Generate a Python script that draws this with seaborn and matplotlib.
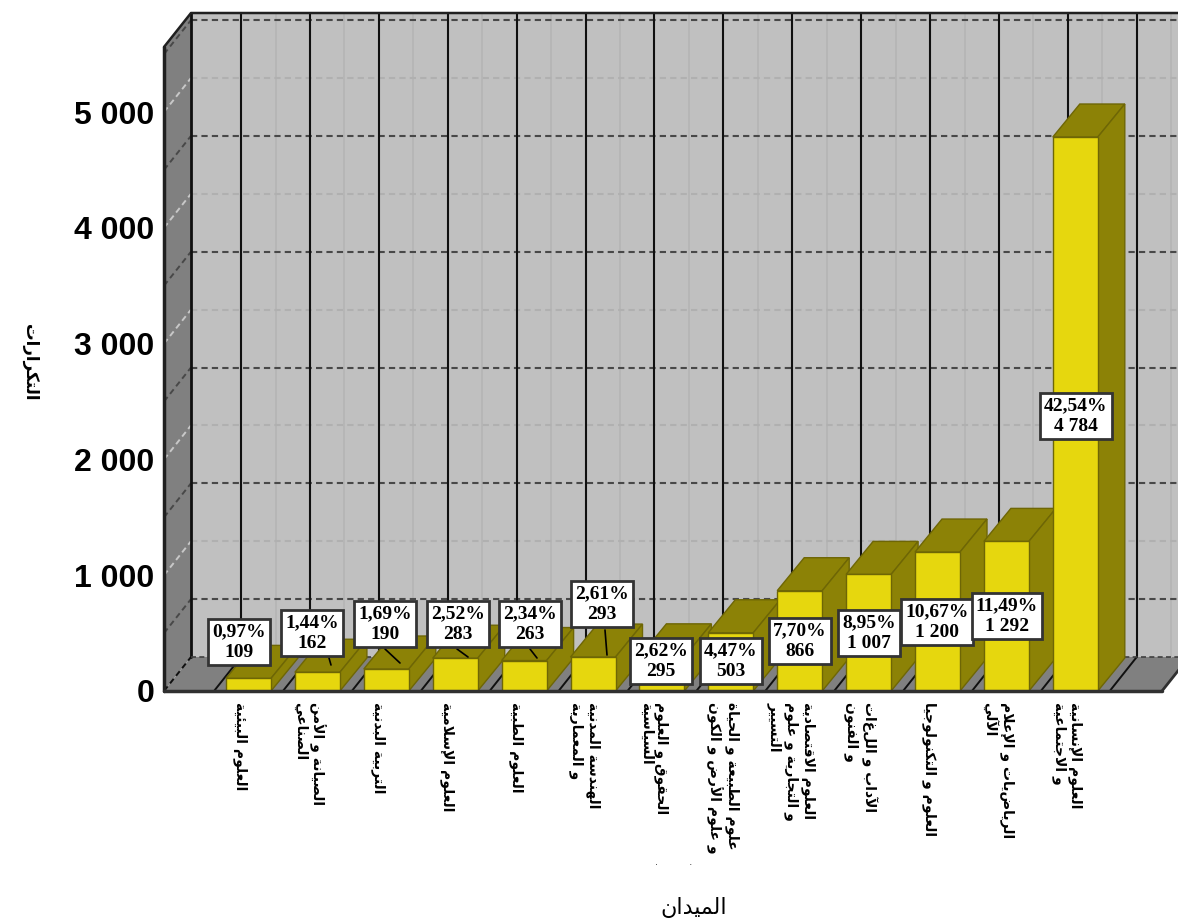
import matplotlib
matplotlib.use("Agg")
import matplotlib.pyplot as plt
from matplotlib.patches import Polygon
from matplotlib.transforms import ScaledTranslation
import pandas as pd
import seaborn as sns

# ---------- data ----------
fields = [
    "العلوم البيئية",
    "الصيانة و الأمن\nالصناعي",
    "التربية البدنية",
    "العلوم الإسلامية",
    "العلوم الطبية",
    "الهندسة المدنية\nو المعمارية",
    "الحقوق و العلوم\nالسياسية",
    "علوم الطبيعة و الحياة\nو علوم الأرض و الكون",
    "العلوم الاقتصادية\nو التجارية و علوم\nالتسيير",
    "الآداب و اللغات\nو الفنون",
    "العلوم و التكنولوجيا",
    "الرياضيات و الإعلام\nالآلي",
    "العلوم الإنسانية\nو الاجتماعية",
]
counts = [109, 162, 190, 283, 263, 293, 295, 503, 866, 1007, 1200, 1292, 4784]
shares = ["0,97", "1,44", "1,69", "2,52", "2,34", "2,61", "2,62", "4,47",
          "7,70", "8,95", "10,67", "11,49", "42,54"]
y_ticks = [0, 1000, 2000, 3000, 4000, 5000]
y_tick_labels = ["0", "1 000", "2 000", "3 000", "4 000", "5 000"]
x_title = "الميدان"
y_title = "التكرارات"

# ---------- layout, in pixels of the 1178x924 canvas ----------
W, H = 1178, 924
FRONT_LEFT, FLOOR_Y, TOP_Y = 164, 691, 47
FIRST_BAR_CENTRE, BAR_STEP, BAR_WIDTH = 248.5, 68.9, 45
PX_PER_COUNT = 0.1158
DEPTH_X, WALL_DEPTH_Y, BAR_DEPTH_Y = 27, 34, 33
FLOOR_RIGHT = 1162
# centres of the value boxes
box_centres = [(239, 642), (312, 633), (385, 624), (458, 624), (530, 624),
               (602, 604), (661, 661), (731, 661), (800, 641), (869, 633),
               (937, 622), (1007, 616), (1076, 416)]
# leader lines from a box to its bar
leaders = [(1, (329, 658), (331, 665)), (2, (385, 649), (400, 663)),
           (3, (457, 649), (468, 657)), (4, (530, 649), (537, 658)),
           (5, (605, 630), (607, 655))]

YELLOW, OLIVE, BAR_EDGE = "#E6D70E", "#8C8206", "#6E6605"
WALL, SIDE_WALL = "#C0C0C0", "#808080"
GRID_DARK, GRID_PALE = "#484848", "#B0B0B0"


# ---------- Arabic contextual forms (matplotlib draws glyphs left to right, unshaped) ----------
FORMS = {  # isolated, final, initial, medial
    "ء": "\uFE80", "آ": "\uFE81\uFE82", "أ": "\uFE83\uFE84", "إ": "\uFE87\uFE88",
    "ا": "\uFE8D\uFE8E", "ئ": "\uFE89\uFE8A\uFE8B\uFE8C", "ب": "\uFE8F\uFE90\uFE91\uFE92",
    "ة": "\uFE93\uFE94", "ت": "\uFE95\uFE96\uFE97\uFE98", "ج": "\uFE9D\uFE9E\uFE9F\uFEA0",
    "ح": "\uFEA1\uFEA2\uFEA3\uFEA4", "د": "\uFEA9\uFEAA", "ر": "\uFEAD\uFEAE",
    "س": "\uFEB1\uFEB2\uFEB3\uFEB4", "ص": "\uFEB9\uFEBA\uFEBB\uFEBC",
    "ط": "\uFEC1\uFEC2\uFEC3\uFEC4", "ع": "\uFEC9\uFECA\uFECB\uFECC",
    "ف": "\uFED1\uFED2\uFED3\uFED4", "ق": "\uFED5\uFED6\uFED7\uFED8",
    "ك": "\uFED9\uFEDA\uFEDB\uFEDC", "ل": "\uFEDD\uFEDE\uFEDF\uFEE0",
    "م": "\uFEE1\uFEE2\uFEE3\uFEE4", "ن": "\uFEE5\uFEE6\uFEE7\uFEE8",
    "ه": "\uFEE9\uFEEA\uFEEB\uFEEC", "و": "\uFEED\uFEEE", "ي": "\uFEF1\uFEF2\uFEF3\uFEF4",
}
LAM_ALEF = {"ا": "\uFEFB\uFEFC", "أ": "\uFEF7\uFEF8", "إ": "\uFEF9\uFEFA", "آ": "\uFEF5\uFEF6"}


def shape_line(line):
    """Join one logical Arabic line and return it in visual (left-to-right) order."""
    out, i = [], 0
    joined_before = False
    while i < len(line):
        ch = line[i]
        if ch not in FORMS:
            out.append(ch)
            joined_before = False
            i += 1
            continue
        if ch == "ل" and i + 1 < len(line) and line[i + 1] in LAM_ALEF:
            out.append(LAM_ALEF[line[i + 1]][1 if joined_before else 0])
            joined_before = False
            i += 2
            continue
        forms = FORMS[ch]
        next_ok = i + 1 < len(line) and line[i + 1] in FORMS
        if len(forms) == 4 and joined_before and next_ok:
            glyph = forms[3]
        elif len(forms) == 4 and next_ok:
            glyph = forms[2]
        elif joined_before and len(forms) >= 2:
            glyph = forms[1]
        else:
            glyph = forms[0]
        out.append(glyph)
        joined_before = len(forms) == 4
        i += 1
    return "".join(reversed(out))


def shape(text):
    return "\n".join(shape_line(part) for part in text.split("\n"))


# ---------- figure and axes ----------
sns.set_theme(style="white")
plt.rcParams["font.family"] = ["DejaVu Sans"]
fig = plt.figure(figsize=(W / 100, H / 100), dpi=100, facecolor="white")
ax = fig.add_axes([FRONT_LEFT / W, 1 - FLOOR_Y / H, (W - FRONT_LEFT) / W, (FLOOR_Y - TOP_Y) / H])
ax.patch.set_visible(False)


def dx(px):
    return px / BAR_STEP


def dy(px):
    return px / PX_PER_COUNT


def data_x(px):
    return (px - FIRST_BAR_CENTRE) / BAR_STEP


def data_y(px):
    return (FLOOR_Y - px) / PX_PER_COUNT


frame = pd.DataFrame({"field": [shape(f) for f in fields], "count": counts})
sns.barplot(data=frame, x="field", y="count", color=YELLOW, saturation=1,
            width=BAR_WIDTH / BAR_STEP, edgecolor=BAR_EDGE, linewidth=1,
            ax=ax, zorder=3)
ax.set_xlim(data_x(FRONT_LEFT), data_x(W))
ax.set_ylim(0, data_y(TOP_Y))
sns.despine(ax=ax, left=True, bottom=True)

x0, x1 = data_x(FRONT_LEFT), data_x(W + 60)
back_x0 = x0 + dx(DEPTH_X)
floor_right = data_x(FLOOR_RIGHT)
wall_dy, y_top = dy(WALL_DEPTH_Y), data_y(TOP_Y)


def poly(points, **kw):
    ax.add_patch(Polygon(points, closed=True, clip_on=False, **kw))


def line(xs, ys, **kw):
    return ax.plot(xs, ys, clip_on=False, **kw)[0]


bar_rects = list(ax.patches)

# back wall, left wall and floor
poly([(back_x0, wall_dy), (x1, wall_dy), (x1, y_top + wall_dy), (back_x0, y_top + wall_dy)],
     fc=WALL, ec="none", zorder=0)
poly([(x0, 0), (back_x0, wall_dy), (back_x0, y_top + wall_dy), (x0, y_top)],
     fc=SIDE_WALL, ec="none", zorder=0)
poly([(x0, 0), (back_x0, wall_dy), (x1, wall_dy), (floor_right + dx(DEPTH_X), wall_dy), (floor_right, 0)],
     fc=SIDE_WALL, ec="none", zorder=0.1)

# horizontal grid: pale lines on the thousands, dark dashes half way between them
for level in range(0, 5501, 500):
    dark = level % 1000 == 500
    colour, z = (GRID_DARK, 0.5) if dark else (GRID_PALE, 0.4)
    if level > 0:
        line([back_x0, x1], [level + wall_dy] * 2, color=colour, lw=1.5, ls=(0, (3, 2)), zorder=z)
    side_colour = GRID_DARK if dark else "#C8C8C8"
    if level == 0:
        side_colour = "#101010"
    line([x0, back_x0], [level, level + wall_dy], color=side_colour, lw=1.4, ls=(0, (3, 2)), zorder=z)

# vertical grid on the back wall, continued across the floor
for i in range(len(counts) + 2):
    back = i - 0.5 + dx(DEPTH_X)
    line([back, back], [wall_dy, y_top + wall_dy], color="#101010", lw=1.5, zorder=0.6)
    if i - 0.5 <= floor_right:
        line([i - 0.5, back], [0, wall_dy], color="#101010", lw=1.4, zorder=0.6)
    pale = i + dx(DEPTH_X)
    line([pale, pale], [wall_dy, y_top + wall_dy], color="#B6B6B6", lw=1.4, zorder=0.3)

# outline of the room
line([back_x0, back_x0], [wall_dy, y_top + wall_dy], color="#101010", lw=2, zorder=0.7)
line([x0, x0], [0, y_top], color="#202020", lw=2.5, zorder=0.7)
line([x0, back_x0, x1], [y_top, y_top + wall_dy, y_top + wall_dy], color="#202020", lw=1.8, zorder=0.7)
line([back_x0, x1], [wall_dy, wall_dy], color="#404040", lw=1.2, ls=(0, (3, 2)), zorder=0.7)
line([x0, floor_right], [0, 0], color="#303030", lw=2.5, zorder=6)
line([floor_right, floor_right + dx(DEPTH_X)], [0, wall_dy], color="#303030", lw=2, zorder=0.7)

# depth of each bar, derived from the front rectangles drawn by seaborn
bar_dx, bar_dy = dx(DEPTH_X), dy(BAR_DEPTH_Y)
for rect in bar_rects:
    left, right, top = rect.get_x(), rect.get_x() + rect.get_width(), rect.get_height()
    poly([(left, top), (right, top), (right + bar_dx, top + bar_dy), (left + bar_dx, top + bar_dy)],
         fc=OLIVE, ec=BAR_EDGE, lw=1, zorder=2)
    poly([(right, 0), (right + bar_dx, bar_dy), (right + bar_dx, top + bar_dy), (right, top)],
         fc=OLIVE, ec=BAR_EDGE, lw=1, zorder=2)

# ticks
ax.set_yticks(y_ticks)
ax.set_yticklabels(y_tick_labels, family="Liberation Sans", fontweight="bold", fontsize=23, color="black")
ax.tick_params(axis="y", length=0, pad=7)
ax.tick_params(axis="x", length=0, pad=8)
shift = ScaledTranslation(-8 / 100, 0, fig.dpi_scale_trans)
for label in ax.get_xticklabels():
    label.set(rotation=270, ha="center", va="top", multialignment="left",
              fontsize=10, fontweight="bold", family="DejaVu Sans", color="black",
              linespacing=1.15)
    label.set_transform(label.get_transform() + shift)
ax.set_xlabel("")
ax.set_ylabel("")

# axis titles
fig.text(694 / W, 1 - 907 / H, shape(x_title), ha="center", va="center", fontsize=16, color="black")
fig.text(30 / W, 1 - 362 / H, shape(y_title), ha="center", va="center", rotation=270,
         fontsize=12, fontweight="bold", color="black")
# remnants of a third line under the longest label
fig.text(674 / W, 1 - 862 / H, ".          .", ha="center", va="center", fontsize=7, color="#333333")

# value boxes and their leader lines
for i, start, end in leaders:
    fig.add_artist(plt.Line2D([start[0] / W, end[0] / W], [1 - start[1] / H, 1 - end[1] / H],
                              color="black", lw=1.2, zorder=8))
for (cx, cy), share, count in zip(box_centres, shares, counts):
    value = f"{count:,}".replace(",", " ")
    fig.text(cx / W, 1 - cy / H, f"{share}%\n{value}", ha="center", va="center",
             family="Liberation Serif", fontweight="bold", fontsize=14, color="black",
             linespacing=1.25, zorder=9,
             bbox=dict(boxstyle="square,pad=0.22", fc="white", ec="#333333", lw=2))

fig.savefig("out.png", dpi=100)
